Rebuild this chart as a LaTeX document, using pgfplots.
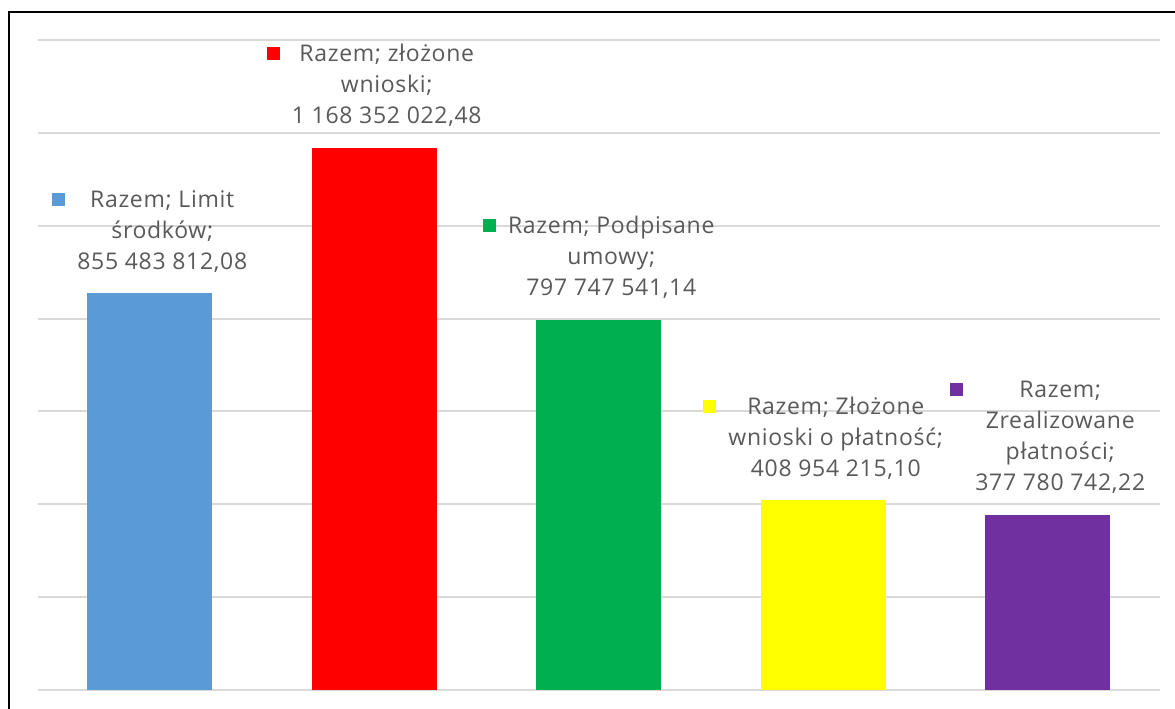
\documentclass[border=0pt]{standalone}
\usepackage{fontspec}
\setmainfont[LetterSpace=3]{Open Sans}
\usepackage{pgfplots}
\pgfplotsset{compat=1.18}
\usetikzlibrary{calc}

\definecolor{c1}{HTML}{5B9BD5}
\definecolor{c2}{HTML}{FF0000}
\definecolor{c3}{HTML}{00B050}
\definecolor{c4}{HTML}{FFFF00}
\definecolor{c5}{HTML}{7030A0}
\definecolor{txt}{HTML}{595959}
\definecolor{gridgray}{HTML}{D9D9D9}

% key square + centred text block, as in the data labels
\newcommand{\lbl}[2]{\textcolor{#1}{\rule[0.8bp]{6.5bp}{6.5bp}}\hspace{6bp}\begin{tabular}[t]{@{}c@{}}#2\end{tabular}}

\begin{document}
\begin{tikzpicture}
\begin{axis}[
    scale only axis,
    width=561.25bp, height=325bp,
    xmin=-0.5, xmax=4.5,
    ymin=0, ymax=1400,
    ytick={0,200,...,1400},
    yticklabels={},
    xtick=\empty,
    major tick length=0,
    axis line style={draw=none},
    ymajorgrids,
    grid style={draw=gridgray, line width=1bp},
    ybar, bar width=62.5bp, bar shift=0pt,
    every node near coord/.append style={
        anchor=south, inner sep=0pt, yshift=7bp, text=txt,
        font=\fontsize{11.5bp}{15.5bp}\selectfont},
]
\addplot[fill=c1, draw=none,
  nodes near coords={\lbl{c1}{Razem; Limit\\środków;\\855 483 812,08}}]
  coordinates {(0,855.48381208)};
\addplot[fill=c2, draw=none,
  nodes near coords={\lbl{c2}{Razem; złożone\\wnioski;\\1 168 352 022,48}}]
  coordinates {(1,1168.35202248)};
\addplot[fill=c3, draw=none,
  nodes near coords={\lbl{c3}{Razem; Podpisane\\umowy;\\797 747 541,14}}]
  coordinates {(2,797.74754114)};
\addplot[fill=c4, draw=none,
  nodes near coords={\lbl{c4}{Razem; Złożone\\wnioski o płatność;\\408 954 215,10}}]
  coordinates {(3,408.95421510)};
\addplot[fill=c5, draw=none,
  nodes near coords={\lbl{c5}{Razem;\\Zrealizowane\\płatności;\\377 780 742,22}}]
  coordinates {(4,377.78074222)};
\coordinate (sw) at (rel axis cs:0,0);
\coordinate (ne) at (rel axis cs:1,1);
\end{axis}
\draw[black, line width=1.1bp]
  ($(sw)+(-14.25bp,-12bp)$) -- ($(sw|-ne)+(-14.25bp,14bp)$) -- ($(ne)+(10bp,14bp)$);
\pgfresetboundingbox
\path ($(sw)+(-18.75bp,-9.5bp)$) rectangle ($(ne)+(7.5bp,20bp)$);
\end{tikzpicture}
\end{document}
